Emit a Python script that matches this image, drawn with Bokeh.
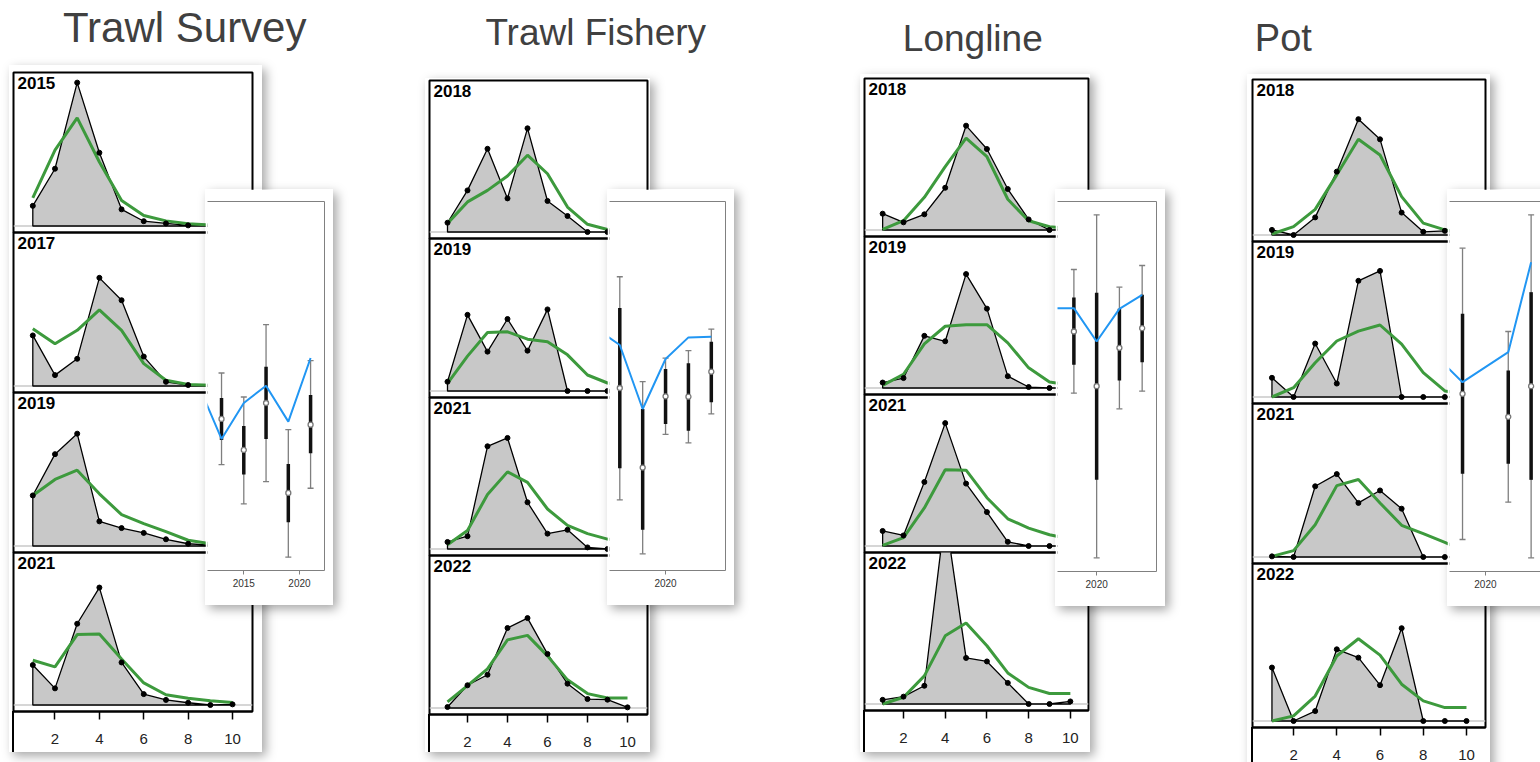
from bokeh.plotting import figure
from bokeh.models import (Range1d, Span, FixedTicker, LinearAxis, Whisker, TeeHead,
                          ColumnDataSource, Div, Column, Grid)
from bokeh.embed import file_html
from bokeh.resources import INLINE
from bokeh.core.properties import value

FONT = "Liberation Sans"
GREEN = "#3d9a3d"
BLUE = "#2196F3"
AGES = [1, 2, 3, 4, 5, 6, 7, 8, 9, 10]
AGE_TICKS = [2, 4, 6, 8, 10]

# ---------------- Trawl Survey ----------------
TS_YEARS = [2015, 2017, 2019, 2021]
TS_OBS = [
    [0.063, 0.179, 0.448, 0.229, 0.052, 0.015, 0.008, 0.002, 0.001, 0.001],
    [0.158, 0.034, 0.085, 0.338, 0.268, 0.092, 0.013, 0.003, 0.001, 0.001],
    [0.158, 0.287, 0.351, 0.077, 0.056, 0.041, 0.021, 0.007, 0.003, 0.002],
    [0.125, 0.052, 0.254, 0.367, 0.133, 0.034, 0.016, 0.007, 0.000, 0.002],
]
TS_FIT = [
    [0.088, 0.237, 0.338, 0.200, 0.080, 0.033, 0.016, 0.007, 0.003, 0.002],
    [0.179, 0.132, 0.174, 0.238, 0.174, 0.070, 0.018, 0.005, 0.002, 0.001],
    [0.158, 0.208, 0.237, 0.163, 0.098, 0.070, 0.045, 0.018, 0.007, 0.002],
    [0.140, 0.119, 0.220, 0.222, 0.144, 0.069, 0.032, 0.021, 0.013, 0.008],
]
TS_IDX_YEARS = [2013, 2015, 2017, 2019, 2021]
TS_IDX_OBS = [4.55, 3.62, 5.03, 2.33, 4.38]
TS_IDX_HI95 = [5.93, 5.21, 7.38, 4.23, 6.30]
TS_IDX_LO95 = [3.18, 2.00, 2.67, 0.40, 2.47]
TS_IDX_HISE = [5.18, 4.34, 6.12, 3.20, 5.27]
TS_IDX_LOSE = [3.92, 2.88, 3.95, 1.45, 3.52]
TS_FIT_YEARS = [2011, 2013, 2015, 2017, 2019, 2021]
TS_IDX_FIT = [5.51, 3.95, 5.03, 5.55, 4.47, 6.38]

# ---------------- Trawl Fishery ----------------
TF_YEARS = [2018, 2019, 2021, 2022]
TF_OBS = [
    [0.029, 0.130, 0.260, 0.105, 0.324, 0.097, 0.050, 0.000, 0.000, 0.000],
    [0.029, 0.238, 0.123, 0.225, 0.126, 0.255, 0.000, 0.000, 0.000, 0.000],
    [0.022, 0.040, 0.321, 0.347, 0.146, 0.048, 0.060, 0.005, 0.000, 0.000],
    [0.003, 0.071, 0.104, 0.250, 0.281, 0.169, 0.076, 0.028, 0.026, 0.002],
]
TF_FIT = [
    [0.027, 0.094, 0.130, 0.175, 0.240, 0.182, 0.078, 0.024, 0.008, 0.003],
    [0.024, 0.109, 0.183, 0.185, 0.162, 0.154, 0.113, 0.050, 0.025, 0.013],
    [0.013, 0.058, 0.170, 0.241, 0.208, 0.125, 0.074, 0.048, 0.031, 0.021],
    [0.019, 0.070, 0.122, 0.213, 0.227, 0.163, 0.088, 0.045, 0.031, 0.031],
]
TF_IDX_YEARS = [2018, 2019, 2020, 2021, 2022]
TF_IDX_OBS = [5.48, 3.09, 5.23, 5.22, 5.97]
TF_IDX_HI95 = [8.82, 5.67, 6.38, 6.60, 7.25]
TF_IDX_LO95 = [2.12, 0.50, 4.09, 3.83, 4.70]
TF_IDX_HISE = [7.88, 4.85, 6.05, 6.22, 6.87]
TF_IDX_LOSE = [3.07, 1.22, 4.40, 4.20, 5.05]
TF_FIT_YEARS = [2017, 2018, 2019, 2020, 2021, 2022]
TF_IDX_FIT = [7.25, 6.77, 4.85, 6.35, 7.00, 7.02]

# ---------------- Longline ----------------
LL_YEARS = [2018, 2019, 2021, 2022]
LL_OBS = [
    [0.051, 0.024, 0.049, 0.132, 0.326, 0.253, 0.128, 0.033, 0.000, 0.002],
    [0.017, 0.031, 0.163, 0.146, 0.356, 0.248, 0.037, 0.003, 0.000, 0.000],
    [0.047, 0.033, 0.200, 0.384, 0.195, 0.106, 0.013, 0.000, 0.000, 0.000],
    [0.013, 0.023, 0.057, 0.594, 0.144, 0.133, 0.066, 0.000, 0.000, 0.008],
]
LL_FIT = [
    [0.002, 0.029, 0.102, 0.198, 0.287, 0.229, 0.096, 0.029, 0.010, 0.005],
    [0.008, 0.043, 0.138, 0.193, 0.198, 0.198, 0.141, 0.063, 0.019, 0.009],
    [0.002, 0.026, 0.119, 0.238, 0.237, 0.151, 0.085, 0.056, 0.035, 0.022],
    [0.000, 0.021, 0.088, 0.213, 0.253, 0.182, 0.097, 0.052, 0.033, 0.033],
]
LL_IDX_YEARS = [2019, 2020, 2021, 2022]
LL_IDX_OBS = [7.20, 5.56, 6.71, 7.30]
LL_IDX_HI95 = [9.06, 10.70, 8.53, 9.18]
LL_IDX_LO95 = [5.35, 0.41, 4.88, 5.41]
LL_IDX_HISE = [8.22, 8.36, 7.88, 8.30]
LL_IDX_LOSE = [6.20, 2.75, 5.73, 6.28]
LL_FIT_YEARS = [2018, 2019, 2020, 2021, 2022]
LL_IDX_FIT = [7.90, 7.90, 6.90, 7.88, 8.30]

# ---------------- Pot ----------------
PT_YEARS = [2018, 2019, 2021, 2022]
PT_OBS = [
    [0.016, 0.000, 0.055, 0.198, 0.362, 0.299, 0.070, 0.010, 0.013, 0.003],
    [0.060, 0.000, 0.167, 0.042, 0.363, 0.394, 0.000, 0.000, 0.000, 0.000],
    [0.002, 0.000, 0.221, 0.259, 0.169, 0.208, 0.151, 0.000, 0.000, 0.000],
    [0.167, 0.000, 0.031, 0.224, 0.198, 0.112, 0.290, 0.000, 0.000, 0.000],
]
PT_FIT = [
    [0.003, 0.026, 0.080, 0.188, 0.299, 0.250, 0.120, 0.037, 0.016, 0.006],
    [0.000, 0.029, 0.107, 0.175, 0.206, 0.225, 0.165, 0.076, 0.019, 0.009],
    [0.002, 0.020, 0.101, 0.223, 0.242, 0.169, 0.099, 0.073, 0.046, 0.016],
    [0.000, 0.016, 0.078, 0.203, 0.257, 0.206, 0.115, 0.063, 0.042, 0.042],
]
PT_IDX_YEARS = [2019, 2021, 2022]
PT_IDX_OBS = [5.33, 4.64, 5.56]
PT_IDX_HI95 = [9.70, 7.20, 10.70]
PT_IDX_LO95 = [0.96, 2.08, 0.41]
PT_IDX_HISE = [7.73, 6.03, 8.38]
PT_IDX_LOSE = [2.93, 3.23, 2.75]
PT_FIT_YEARS = [2018, 2019, 2021, 2022]
PT_IDX_FIT = [6.35, 5.68, 6.58, 9.28]

TITLES = ["Trawl Survey", "Trawl Fishery", "Longline", "Pot"]

# ---------------- layout (pixels) ----------------
PAD = 2
PX_PER_UNIT = 320.0
GAP = 6.5
SHADOW = "4px 4px 10px rgba(0,0,0,0.35)"

LAYOUT = [
    dict(box=(9, 65, 253, 687), fl=13, fw=239, tops=[72, 232, 392, 552], hs=[160, 160, 160, 159],
         xr=(0.13, 10.90), box_bottom=752,
         inset=dict(l=205, t=189, fw=117, fh=369, xr=(2011.74, 2022.25), yr=(0, 11.08))),
    dict(box=(425, 78, 225, 674), fl=429, fw=218, tops=[80, 238, 397, 555], hs=[158, 159, 158, 159],
         xr=(0.10, 11.00), box_bottom=752,
         inset=dict(l=607, t=189, fw=116, fh=369, xr=(2017.55, 2022.62), yr=(0, 11.08))),
    dict(box=(860, 74, 230, 678), fl=864, fw=224, tops=[78, 236, 394, 552], hs=[158, 158, 158, 158],
         xr=(0.13, 10.87), box_bottom=752,
         inset=dict(l=1055, t=189, fw=99, fh=370, xr=(2018.28, 2022.63), yr=(0, 11.10))),
    dict(box=(1247, 74, 243, 700), fl=1252, fw=233, tops=[79, 241, 403, 563], hs=[162, 162, 160, 164],
         xr=(0.10, 10.88), box_bottom=774,
         inset=dict(l=1447, t=189, fw=99, fh=370, xr=(2018.43, 2022.76), yr=(0, 11.10))),
]
TITLE_POS = [(61, 27, 42), (487, 32, 37), (908, 38, 37), (1263, 37, 38)]

GROUP_DATA = [
    (TS_YEARS, TS_OBS, TS_FIT, TS_IDX_YEARS, TS_IDX_OBS, TS_IDX_HI95, TS_IDX_LO95, TS_IDX_HISE, TS_IDX_LOSE, TS_FIT_YEARS, TS_IDX_FIT),
    (TF_YEARS, TF_OBS, TF_FIT, TF_IDX_YEARS, TF_IDX_OBS, TF_IDX_HI95, TF_IDX_LO95, TF_IDX_HISE, TF_IDX_LOSE, TF_FIT_YEARS, TF_IDX_FIT),
    (LL_YEARS, LL_OBS, LL_FIT, LL_IDX_YEARS, LL_IDX_OBS, LL_IDX_HI95, LL_IDX_LO95, LL_IDX_HISE, LL_IDX_LOSE, LL_FIT_YEARS, LL_IDX_FIT),
    (PT_YEARS, PT_OBS, PT_FIT, PT_IDX_YEARS, PT_IDX_OBS, PT_IDX_HI95, PT_IDX_LO95, PT_IDX_HISE, PT_IDX_LOSE, PT_FIT_YEARS, PT_IDX_FIT),
]


def pos(left, top, extra=None):
    s = {"position": "absolute", "left": f"{left}px", "top": f"{top}px", "margin": "0px"}
    if extra:
        s.update(extra)
    return s


def hide_grids(p):
    for r in list(p.center):
        if isinstance(r, Grid):
            r.visible = False


def comp_panel(label, obs, fit, xr, left, top, fw, fh, with_axis):
    p = figure(frame_width=fw, frame_height=fh,
               x_range=Range1d(xr[0], xr[1]),
               y_range=Range1d(-GAP / PX_PER_UNIT, (fh - GAP) / PX_PER_UNIT),
               output_backend="svg", toolbar_location=None, title=None,
               x_axis_location="below" if with_axis else None, y_axis_location=None,
               min_border_left=PAD, min_border_right=PAD, min_border_top=PAD,
               min_border_bottom=0 if with_axis else PAD,
               background_fill_color=None, border_fill_color=None,
               outline_line_color="black", outline_line_width=2,
               styles=pos(left - PAD, top - PAD))
    hide_grids(p)
    p.add_layout(Span(location=0, dimension="width", line_color="#c8c8c8",
                      line_width=1.5, level="underlay"))
    px = [AGES[0]] + AGES + [AGES[-1]]
    py = [0] + list(obs) + [0]
    p.patch(px, py, fill_color="#c8c8c8", line_color="black", line_width=1.3)
    p.line(AGES, fit, line_color=GREEN, line_width=3)
    p.scatter(AGES, obs, size=5, color="black")
    p.text(x=[xr[0]], y=[(fh - GAP) / PX_PER_UNIT], text=[str(label)],
           x_offset=4, y_offset=4, text_baseline="top", text_align="left",
           text_font=value(FONT), text_font_style="bold", text_font_size="17px",
           text_color="black")
    if with_axis:
        ax = p.xaxis[0]
        ax.ticker = FixedTicker(ticks=AGE_TICKS)
        ax.major_tick_out = 8
        ax.major_tick_in = 0
        ax.minor_tick_line_color = None
        ax.major_tick_line_width = 1.5
        ax.axis_line_width = 2
        ax.major_label_text_font = FONT
        ax.major_label_text_font_size = "15px"
        ax.major_label_text_color = "#222222"
        ax.major_label_standoff = 14
    return p


def index_inset(years, obs, hi95, lo95, hise, lose, fit_years, fit, geo):
    p = figure(frame_width=geo["fw"], frame_height=geo["fh"],
               x_range=Range1d(*geo["xr"]), y_range=Range1d(*geo["yr"]),
               output_backend="svg", toolbar_location=None, title=None,
               x_axis_location="below", y_axis_location=None,
               min_border_left=0, min_border_right=11, min_border_top=12, min_border_bottom=35,
               background_fill_color="white", border_fill_color="white",
               outline_line_color=None,
               styles=pos(geo["l"], geo["t"], {"box-shadow": SHADOW}))
    hide_grids(p)
    ax = p.xaxis[0]
    ax.ticker = FixedTicker(ticks=[2010, 2015, 2020, 2025])
    ax.axis_line_color = "#808080"
    ax.major_tick_line_color = "#808080"
    ax.major_tick_out = 4
    ax.major_tick_in = 0
    ax.minor_tick_line_color = None
    ax.major_label_text_font = FONT
    ax.major_label_text_font_size = "10px"
    ax.major_label_text_color = "#333333"
    ax.major_label_standoff = 4
    for loc in ("above", "right"):
        a = LinearAxis(ticker=FixedTicker(ticks=[]), axis_line_color="#808080",
                       major_tick_line_color=None, minor_tick_line_color=None,
                       major_tick_out=0, major_tick_in=0, major_label_standoff=0,
                       major_label_text_font_size="0px")
        p.add_layout(a, loc)
    src = ColumnDataSource(dict(x=years, obs=obs, hi=hi95, lo=lo95, hs=hise, ls=lose))
    p.add_layout(Whisker(source=src, base="x", upper="hi", lower="lo",
                         line_color="#7f7f7f", line_width=1.3,
                         upper_head=TeeHead(size=6, line_color="#7f7f7f", line_width=1.3),
                         lower_head=TeeHead(size=6, line_color="#7f7f7f", line_width=1.3)))
    p.segment(x0="x", y0="ls", x1="x", y1="hs", source=src, line_color="#111111", line_width=3.5)
    p.line(fit_years, fit, line_color=BLUE, line_width=2)
    p.scatter("x", "obs", source=src, size=5, fill_color="white",
              line_color="#777777", line_width=1.3)
    return p


# background with titles
bg = figure(width=1540, height=762, x_range=Range1d(0, 1540), y_range=Range1d(762, 0),
            output_backend="svg", toolbar_location=None, title=None,
            x_axis_location=None, y_axis_location=None, min_border=0,
            outline_line_color=None, background_fill_color="white",
            border_fill_color="white", styles=pos(0, 0))
hide_grids(bg)
for (tx, ty, ts), t in zip(TITLE_POS, TITLES):
    bg.text(x=[tx], y=[ty], text=[t], text_font=value(FONT), text_font_size=f"{ts}px",
            text_color="#404040", text_baseline="middle", text_align="left")

children = [bg]
for lay, data in zip(LAYOUT, GROUP_DATA):
    (years, obs_rows, fit_rows, iy, iobs, ihi, ilo, ihs, ils, fy, ifit) = data
    bl, bt, bw, bh = lay["box"]
    children.append(Div(text="", width=bw, height=bh, margin=0,
                        styles=pos(bl, bt, {"background-color": "white", "box-shadow": SHADOW})))
    last_bottom = lay["tops"][-1] + lay["hs"][-1]
    children.append(Div(text="", width=2, height=lay["box_bottom"] - last_bottom, margin=0,
                        styles=pos(lay["fl"] - 1, last_bottom, {"background-color": "black"})))
    n = len(years)
    for i, (yr, ob, ft) in enumerate(zip(years, obs_rows, fit_rows)):
        children.append(comp_panel(yr, ob, ft, lay["xr"], lay["fl"], lay["tops"][i],
                                   lay["fw"], lay["hs"][i], i == n - 1))
    children.append(index_inset(iy, iobs, ihi, ilo, ihs, ils, fy, ifit, lay["inset"]))

root = Column(children=children, width=1540, height=762, sizing_mode="fixed",
              styles={"position": "relative", "overflow": "hidden", "background-color": "white"})

open("out.html", "w").write(file_html(root, INLINE))
